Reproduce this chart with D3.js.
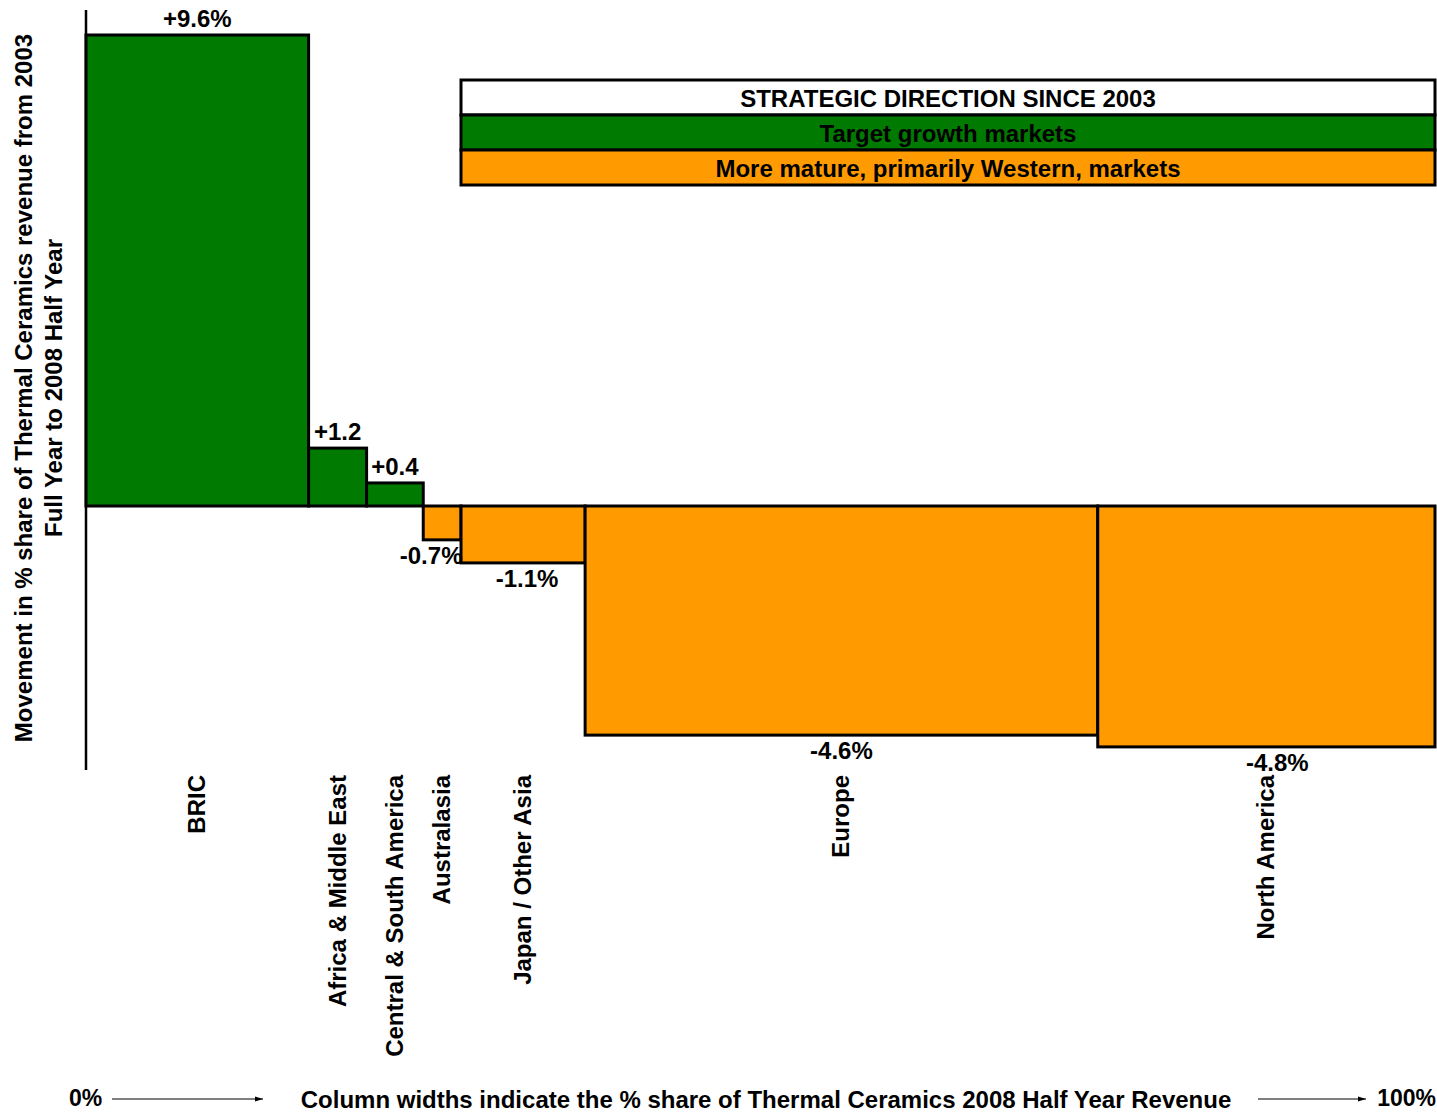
<!DOCTYPE html>
<html>
<head>
<meta charset="utf-8">
<script src="https://cdn.jsdelivr.net/npm/d3@7"></script>
<style>
  body { margin: 0; background: #fff; }
  text { font-family: "Liberation Sans", Arial, sans-serif; font-weight: bold; fill: #000; }
</style>
</head>
<body>
<div id="canvas"></div>
<script>
// regions, their share of 2008 HY revenue (column width, %) and movement in share (%)
var regions = ["BRIC", "Africa & Middle East", "Central & South America", "Australasia", "Japan / Other Asia", "Europe", "North America"];
var shares = [16.5, 4.3, 4.2, 2.8, 9.2, 38.0, 25.0];
var movements = [9.6, 1.18, 0.47, -0.69, -1.16, -4.67, -4.91];
var valueLabels = ["+9.6%", "+1.2", "+0.4", "-0.7%", "-1.1%", "-4.6%", "-4.8%"];
var groups = ["growth", "growth", "growth", "mature", "mature", "mature", "mature"];
var legendRows = ["STRATEGIC DIRECTION SINCE 2003", "Target growth markets", "More mature, primarily Western, markets"];

var colours = {growth: "#007a00", mature: "#ff9a00"};

var width = 1437, height = 1115;

var svg = d3.select("#canvas")
            .append("svg")
                .attr("width", width)
                .attr("height", height);

var xScale = d3.scaleLinear()
            .domain([0, 100])
            .range([86, 1435]);

var yScale = d3.scaleLinear()
            .domain([0, 9.6])
            .range([506, 35]);

// cumulative left edge of each column
var starts = [];
var acc = 0;
shares.forEach(function(s) { starts.push(acc); acc += s; });

// y axis line
svg.append("line")
    .attr("x1", xScale(0)).attr("x2", xScale(0))
    .attr("y1", 10).attr("y2", 770)
    .attr("stroke", "#000")
    .attr("stroke-width", 2.5);

// columns
svg.selectAll("rect.bar")
    .data(movements)
    .enter().append("rect")
    .attr("class", "bar")
    .attr("x", function(d, i) { return xScale(starts[i]); })
    .attr("width", function(d, i) { return xScale(starts[i] + shares[i]) - xScale(starts[i]); })
    .attr("y", function(d) { return Math.min(yScale(d), yScale(0)); })
    .attr("height", function(d) { return Math.abs(yScale(d) - yScale(0)); })
    .style("fill", function(d, i) { return colours[groups[i]]; })
    .attr("stroke", "#000")
    .attr("stroke-width", 3);

// value labels
var labelShift = [0, 0, 0, -11, 4, 0, 11];
svg.selectAll("text.value")
    .data(movements)
    .enter().append("text")
    .attr("class", "value")
    .attr("x", function(d, i) { return xScale(starts[i] + shares[i] / 2) + labelShift[i]; })
    .attr("y", function(d) { return d >= 0 ? yScale(d) - 8 : yScale(d) + 24; })
    .attr("text-anchor", "middle")
    .attr("font-size", "24px")
    .text(function(d, i) { return valueLabels[i]; });

// category labels, rotated
svg.selectAll("text.cat")
    .data(regions)
    .enter().append("text")
    .attr("class", "cat")
    .attr("transform", function(d, i) {
        return "translate(" + (xScale(starts[i] + shares[i] / 2) + 8) + ",775) rotate(-90)";
    })
    .attr("text-anchor", "end")
    .attr("font-size", "24px")
    .text(function(d) { return d; });

// y axis title
var yTitle = svg.append("text")
    .attr("transform", "translate(32,388) rotate(-90)")
    .attr("text-anchor", "middle")
    .attr("font-size", "24px");
yTitle.append("tspan").attr("x", 0).attr("dy", 0)
    .text("Movement in % share of Thermal Ceramics revenue from 2003");
yTitle.append("tspan").attr("x", 0).attr("dy", 30)
    .text("Full Year to 2008 Half Year");

// legend table
var legendY = d3.scaleBand()
    .domain(legendRows)
    .range([80, 185]);
var legendFill = ["#fff", colours.growth, colours.mature];

var legend = svg.append("g");
legend.selectAll("rect")
    .data(legendRows)
    .enter().append("rect")
    .attr("x", 461)
    .attr("width", 1435 - 461)
    .attr("y", function(d) { return legendY(d); })
    .attr("height", legendY.bandwidth())
    .style("fill", function(d, i) { return legendFill[i]; })
    .attr("stroke", "#000")
    .attr("stroke-width", 3);
legend.selectAll("text")
    .data(legendRows)
    .enter().append("text")
    .attr("x", (461 + 1435) / 2)
    .attr("y", function(d) { return legendY(d) + legendY.bandwidth() / 2 + 9; })
    .attr("text-anchor", "middle")
    .attr("font-size", "24px")
    .text(function(d) { return d; });

// bottom note with arrows
svg.append("defs").append("marker")
    .attr("id", "arrow")
    .attr("viewBox", "0 0 10 10")
    .attr("refX", 10).attr("refY", 5)
    .attr("markerWidth", 7).attr("markerHeight", 7)
    .attr("orient", "auto")
    .append("path")
    .attr("d", "M0,2 L10,5 L0,8 Z")
    .attr("fill", "#000");

svg.append("text")
    .attr("x", 69).attr("y", 1106)
    .attr("font-size", "23px")
    .text("0%");
svg.append("line")
    .attr("x1", 112).attr("x2", 263)
    .attr("y1", 1099).attr("y2", 1099)
    .attr("stroke", "#000").attr("stroke-width", 1.2)
    .attr("marker-end", "url(#arrow)");
svg.append("text")
    .attr("x", 766).attr("y", 1108)
    .attr("text-anchor", "middle")
    .attr("font-size", "24px")
    .text("Column widths indicate the % share of Thermal Ceramics 2008 Half Year Revenue");
svg.append("line")
    .attr("x1", 1258).attr("x2", 1366)
    .attr("y1", 1099).attr("y2", 1099)
    .attr("stroke", "#000").attr("stroke-width", 1.2)
    .attr("marker-end", "url(#arrow)");
svg.append("text")
    .attr("x", 1436).attr("y", 1106)
    .attr("text-anchor", "end")
    .attr("font-size", "23px")
    .text("100%");
</script>
</body>
</html>
